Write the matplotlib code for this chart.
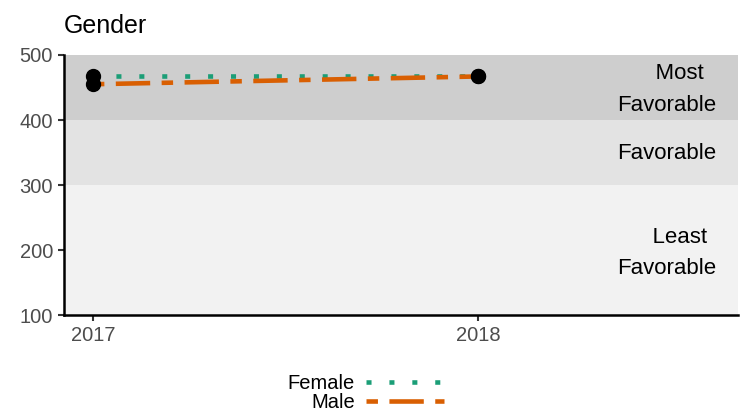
import matplotlib
matplotlib.use("Agg")
import matplotlib.pyplot as plt
from matplotlib.lines import Line2D

plt.rcParams['font.family'] = ['Liberation Sans', 'DejaVu Sans']

years = [2017, 2018]
female = [468, 468]
male = [455, 467]
bands = [(100, 300, '#F2F2F2'), (300, 400, '#E3E3E3'), (400, 500, '#CECECE')]
band_labels = ["    Least\nFavorable", "Favorable", "    Most\nFavorable"]
band_label_y = [195, 348, 447]

fig = plt.figure(figsize=(7.46, 4.15), dpi=100)
ax = fig.add_axes([64/746, 1-315/415, (738-64)/746, (315-55)/415])

for lo, hi, c in bands:
    ax.axhspan(lo, hi, color=c, lw=0, zorder=0)

lw = 3.3
fem_ls = (0, (1.1, 3.9))
male_ls = (0, (2.5, 2.5, 7.5, 2.5))
ax.plot(years, female, color='#1B9E77', lw=lw, linestyle=fem_ls, zorder=3, dash_capstyle='butt')
ax.plot(years, male, color='#D95F02', lw=lw, linestyle=male_ls, zorder=3, dash_capstyle='butt')
ax.plot(years, female, 'o', color='black', ms=10, zorder=4)
ax.plot(years, male, 'o', color='black', ms=10, zorder=4)

for lab, y in zip(band_labels, band_label_y):
    ax.text(2018.49, y, lab, ha='center', va='center', fontsize=16, linespacing=1.65,
            multialignment='center', color='black')

ax.set_xlim(2016.925, 2018.674)
ax.set_ylim(100, 500)
ax.set_xticks(years)
ax.set_yticks([100, 200, 300, 400, 500])
ax.tick_params(axis='both', colors='#333333', labelsize=14.5, length=4.5, width=1.5,
               labelcolor='#4D4D4D', pad=3.5)
for s in ['top', 'right']:
    ax.spines[s].set_visible(False)
for s in ['left', 'bottom']:
    ax.spines[s].set_linewidth(1.8)
    ax.spines[s].set_color('black')

fig.text(64/746, 1-26/415, "Gender", fontsize=18, ha='left', va='center')

handles = [Line2D([], [], color='#1B9E77', lw=lw, linestyle=fem_ls, dash_capstyle='butt'),
           Line2D([], [], color='#D95F02', lw=lw, linestyle=male_ls, dash_capstyle='butt')]
leg = fig.legend(handles, ["Female", "Male"], loc='center', bbox_to_anchor=(366/746, 1-393/415),
                 frameon=False, fontsize=14.5, markerfirst=False, handlelength=3.9,
                 labelspacing=0.0, handletextpad=0.55, borderpad=0)

fig.savefig("out.png", dpi=100)
